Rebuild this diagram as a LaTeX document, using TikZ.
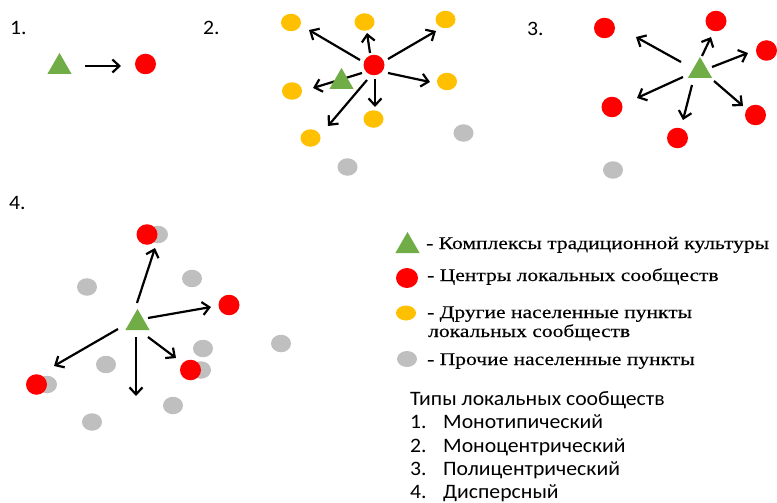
\documentclass[tikz,border=0pt]{standalone}
\usepackage{fontspec}
\setmainfont[FakeStretch=1.21,FakeBold=0.3]{Liberation Serif}
\newfontfamily\carl[FakeStretch=1.06]{Carlito}
\usetikzlibrary{shapes.geometric,arrows.meta}
\definecolor{cgreen}{HTML}{70AD47}
\definecolor{cred}{HTML}{FF0000}
\definecolor{cyel}{HTML}{FFC000}
\definecolor{cgray}{HTML}{BFBFBF}
\tikzset{
  tri/.style={regular polygon,regular polygon sides=3,minimum size=28pt,inner sep=0pt,fill=cgreen,draw=none},
  redc/.style={ellipse,minimum width=21pt,minimum height=20.5pt,inner sep=0pt,fill=cred,draw=none},
  yelc/.style={ellipse,minimum width=20pt,minimum height=17.5pt,inner sep=0pt,fill=cyel,draw=none},
  grayc/.style={ellipse,minimum width=20pt,minimum height=17.5pt,inner sep=0pt,fill=cgray,draw=none},
  arr/.style={draw=black,line width=2.2pt,-{Straight Barb[length=7pt,width=13pt,line width=2.2pt]}},
  numlab/.style={anchor=base west,font=\carl\fontsize{20.5}{24}\selectfont,inner sep=0pt},
  leg/.style={anchor=base west,font=\fontsize{17.8}{20}\selectfont,inner sep=0pt},
  lst/.style={anchor=base west,font=\carl\fontsize{20.5}{24}\selectfont,inner sep=0pt}
}
\begin{document}
\begin{tikzpicture}[x=1pt,y=-1pt]
\useasboundingbox (0,0) rectangle (777,503);
% ---------- 1
\node[numlab] (l1) at (10,35) {1.};
\node[tri] (t1) at (59.5,67) {};
\node[redc] (r1) at (145.5,64) {};
\coordinate (a1s) at (85,66); \coordinate (a1e) at (121,66);
\draw[arr] (a1s) -- (a1e);
% ---------- 2
\node[numlab] (l2) at (203,35) {2.};
\node[yelc] (y21) at (291,22.5) {};
\node[yelc] (y22) at (364.5,22) {};
\node[yelc] (y23) at (445.5,19.5) {};
\node[yelc] (y24) at (292,91) {};
\node[yelc] (y25) at (447,81.5) {};
\node[yelc] (y26) at (373.5,119) {};
\node[yelc] (y27) at (310.5,138) {};
\node[grayc] (g21) at (463.5,133) {};
\node[grayc] (g22) at (347.5,167) {};
\node[redc] (r2) at (374,65) {};
\coordinate (s21) at (360,60);  \coordinate (e21) at (309,30);
\coordinate (s22) at (370,53);  \coordinate (e22) at (367,33);
\coordinate (s23) at (388,59);  \coordinate (e23) at (436,31);
\coordinate (s24) at (388,73);  \coordinate (e24) at (430,82);
\coordinate (s25) at (375,79);  \coordinate (e25) at (375,107);
\coordinate (s26) at (367,80);  \coordinate (e26) at (328,126);
\coordinate (s27) at (362,73);  \coordinate (e27) at (313,88);
\foreach \i in {1,...,7} {\draw[arr] (s2\i) -- (e2\i);}
\node[tri] (t2) at (341.5,82) {};
% ---------- 3
\node[numlab] (l3) at (527,36) {3.};
\node[redc] (r31) at (604.5,28) {};
\node[redc] (r32) at (716,21) {};
\node[redc] (r33) at (766.5,50.5) {};
\node[redc] (r34) at (612,107) {};
\node[redc] (r35) at (755.5,115) {};
\node[redc] (r36) at (677.5,138) {};
\node[grayc] (g31) at (613,170) {};
\node[tri] (t3) at (700,71) {};
\coordinate (s31) at (681,62);  \coordinate (e31) at (636,37);
\coordinate (s32) at (702,56);  \coordinate (e32) at (711,37);
\coordinate (s33) at (712,67);  \coordinate (e33) at (748,53);
\coordinate (s34) at (714,81);  \coordinate (e34) at (743,106);
\coordinate (s35) at (692,85);  \coordinate (e35) at (683,120);
\coordinate (s36) at (683,77);  \coordinate (e36) at (637,98);
\foreach \i in {1,...,6} {\draw[arr] (s3\i) -- (e3\i);}
% ---------- 4
\node[numlab] (l4) at (9,209) {4.};
\node[grayc] (g41) at (158,234.5) {};
\node[redc] (r41) at (147,234.5) {};
\node[redc] (r42) at (229,305) {};
\node[grayc] (g42) at (201,370) {};
\node[redc] (r43) at (190.5,370) {};
\node[grayc] (g43) at (47,384.5) {};
\node[redc] (r44) at (36.5,384.5) {};
\node[grayc] (g44) at (87,287) {};
\node[grayc] (g45) at (192,278.5) {};
\node[grayc] (g46) at (203,348.5) {};
\node[grayc] (g47) at (281,343.5) {};
\node[grayc] (g48) at (106,364.5) {};
\node[grayc] (g49) at (173,405.5) {};
\node[grayc] (g410) at (92,422) {};
\node[tri] (t4) at (137.5,323) {};
\coordinate (s41) at (137,303);  \coordinate (e41) at (155,248);
\coordinate (s42) at (148,318);  \coordinate (e42) at (211,307);
\coordinate (s43) at (148,337);  \coordinate (e43) at (176,358);
\coordinate (s44) at (136,337);  \coordinate (e44) at (136,396);
\coordinate (s45) at (118,329);  \coordinate (e45) at (54,366);
\foreach \i in {1,...,5} {\draw[arr] (s4\i) -- (e4\i);}
% ---------- legend
\node[tri] (lt) at (407.5,246) {};
\node[leg] (lt1) at (426,249) {- Комплексы традиционной культуры};
\node[redc,minimum width=22pt,minimum height=20pt] (lr) at (407,278) {};
\node[leg] (lr1) at (427,281) {- Центры локальных сообществ};
\node[yelc,minimum height=15pt] (ly) at (406,313) {};
\node[leg] (ly1) at (427,318) {- Другие населенные пункты};
\node[leg] (ly2) at (428,337) {локальных сообществ};
\node[grayc,minimum height=16pt] (lg) at (407,359) {};
\node[leg] (lg1) at (427,365) {- Прочие населенные пункты};
% ---------- list
\node[lst] (h) at (410,405) {Типы локальных сообществ};
\node[lst] (n1) at (410,428) {1.}; \node[lst] (m1) at (443,428) {Монотипический};
\node[lst] (n2) at (410,452) {2.}; \node[lst] (m2) at (443,452) {Моноцентрический};
\node[lst] (n3) at (410,475) {3.}; \node[lst] (m3) at (443,475) {Полицентрический};
\node[lst] (n4) at (410,498) {4.}; \node[lst] (m4) at (443,498) {Дисперсный};
\end{tikzpicture}
\end{document}
